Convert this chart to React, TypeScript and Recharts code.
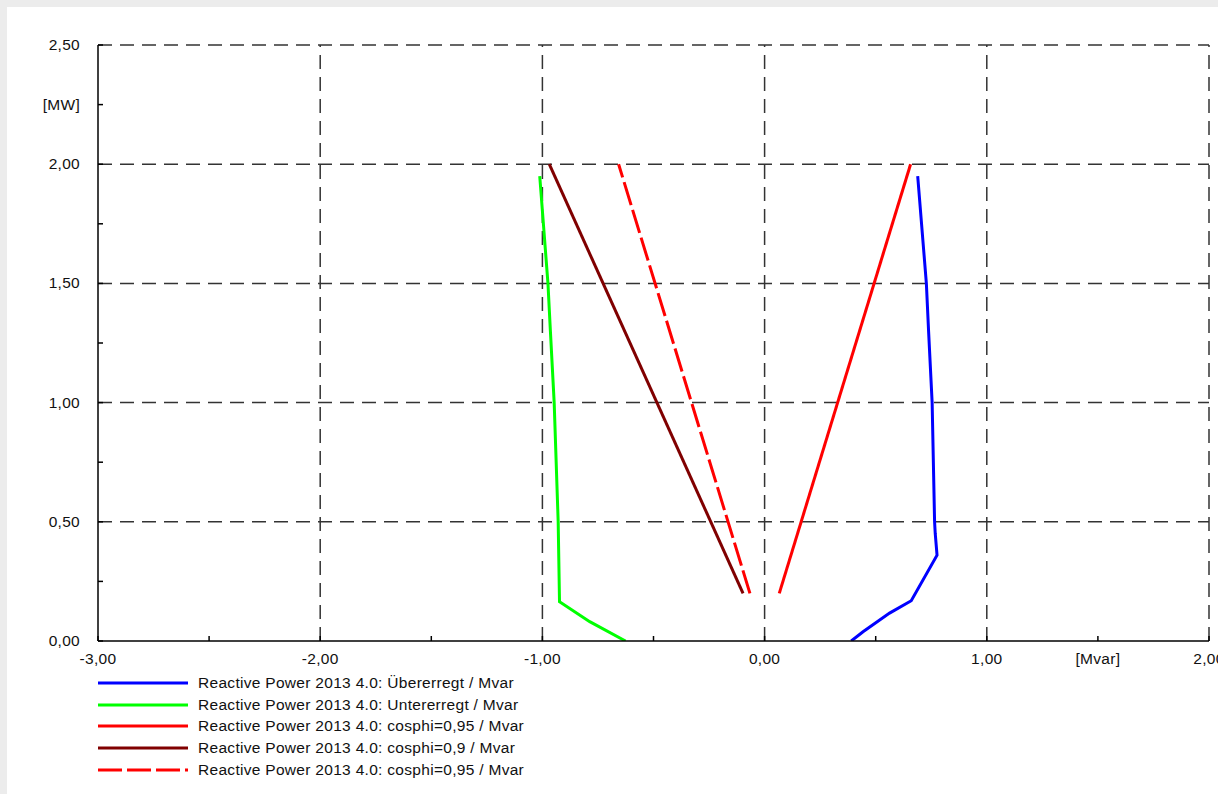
import React from 'react';
import { LineChart, Line, XAxis, YAxis, ReferenceLine, Legend } from 'recharts';

// Q in Mvar (x), P in MW (y)
const uebererregtQ = [0.39, 0.443, 0.5625, 0.66, 0.776, 0.768, 0.765, 0.754, 0.738, 0.728, 0.689];
const uebererregtP = [0, 0.039, 0.117, 0.169, 0.36, 0.45, 0.5, 1.0, 1.3, 1.5, 1.95];

const untererregtQ = [-0.626, -0.787, -0.923, -0.929, -0.947, -0.964, -0.975, -1.012];
const untererregtP = [0, 0.081, 0.165, 0.5, 1.0, 1.3, 1.5, 1.95];

const cosphi095PosQ = [0.066, 0.657];
const cosphi095PosP = [0.2, 2.0];

const cosphi09NegQ = [-0.097, -0.969];
const cosphi09NegP = [0.2, 2.0];

const cosphi095NegQ = [-0.066, -0.657];
const cosphi095NegP = [0.2, 2.0];

const xTicks = [-3, -2.5, -2, -1.5, -1, -0.5, 0, 0.5, 1, 1.5, 2];
const xTickLabels = ['-3,00', '', '-2,00', '', '-1,00', '', '0,00', '', '1,00', '[Mvar]', '2,00'];
const yTicks = [0, 0.25, 0.5, 0.75, 1, 1.25, 1.5, 1.75, 2, 2.25, 2.5];
const yTickLabels = ['0,00', '', '0,50', '', '1,00', '', '1,50', '', '2,00', '[MW]', '2,50'];

const gridX = [-2, -1, 0, 1, 2];
const gridY = [0.5, 1, 1.5, 2, 2.5];

const seriesNames = [
  'Reactive Power 2013 4.0: Übererregt / Mvar',
  'Reactive Power 2013 4.0: Untererregt / Mvar',
  'Reactive Power 2013 4.0: cosphi=0,95 / Mvar',
  'Reactive Power 2013 4.0: cosphi=0,9 / Mvar',
  'Reactive Power 2013 4.0: cosphi=0,95 / Mvar',
];
const seriesColors = ['#0000ff', '#00ff00', '#ff0000', '#800000', '#ff0000'];
const seriesDash = ['', '', '', '', '24 5'];

const toPoints = (q: number[], p: number[]) => q.map((v, i) => ({ q: v, p: p[i] }));

const seriesData = [
  toPoints(uebererregtQ, uebererregtP),
  toPoints(untererregtQ, untererregtP),
  toPoints(cosphi095PosQ, cosphi095PosP),
  toPoints(cosphi09NegQ, cosphi09NegP),
  toPoints(cosphi095NegQ, cosphi095NegP),
];

const font = '"Liberation Sans", Arial, sans-serif';
const textColor = '#111';
const fontSize = 15.5;
const spacing = 0.3;

const XTick = (props: any) => {
  const { x, y, payload } = props;
  const label = xTickLabels[xTicks.indexOf(payload.value)];
  return (
    <g>
      <line x1={x} x2={x} y1={y} y2={y - 5} stroke="#000" strokeWidth={1.5} />
      {label ? (
        <text x={x} y={y + 23} textAnchor="middle" fontFamily={font} fontSize={fontSize} letterSpacing={spacing} fill={textColor}>
          {label}
        </text>
      ) : null}
    </g>
  );
};

const YTick = (props: any) => {
  const { x, y, payload } = props;
  const label = yTickLabels[yTicks.indexOf(payload.value)];
  return (
    <g>
      <line x1={x} x2={x + 5} y1={y} y2={y} stroke="#000" strokeWidth={1.5} />
      {label ? (
        <text x={x - 18} y={y + 5} textAnchor="end" fontFamily={font} fontSize={fontSize} letterSpacing={spacing} fill={textColor}>
          {label}
        </text>
      ) : null}
    </g>
  );
};

const LegendBox = () => (
  <div style={{ fontFamily: font, fontSize, letterSpacing: spacing, color: textColor }}>
    {seriesNames.map((name, i) => (
      <div key={i} style={{ display: 'flex', alignItems: 'center', height: 21.7 }}>
        <svg width={90} height={6} style={{ display: 'block' }}>
          <line
            x1={0}
            x2={90}
            y1={3}
            y2={3}
            stroke={seriesColors[i]}
            strokeWidth={3}
            strokeDasharray={seriesDash[i] || undefined}
          />
        </svg>
        <span style={{ marginLeft: 10, whiteSpace: 'nowrap' }}>{name}</span>
      </div>
    ))}
  </div>
);

export default function App() {
  return (
    <div style={{ position: 'absolute', left: 0, top: 0, width: 1218, height: 794, background: '#ececec' }}>
      <div style={{ position: 'absolute', left: 7, top: 7, width: 1211, height: 787, background: '#fff' }}>
        <LineChart width={1211} height={787} margin={{ top: 38, right: 9, left: 31, bottom: 123 }}>
          <XAxis
            type="number"
            dataKey="q"
            domain={[-3, 2]}
            ticks={xTicks}
            interval={0}
            allowDataOverflow
            tickSize={0}
            tickMargin={0}
            tickLine={false}
            tick={<XTick />}
            axisLine={{ stroke: '#000', strokeWidth: 1.5 }}
            height={30}
          />
          <YAxis
            type="number"
            dataKey="p"
            domain={[0, 2.5]}
            ticks={yTicks}
            interval={0}
            allowDataOverflow
            tickSize={0}
            tickMargin={0}
            tickLine={false}
            tick={<YTick />}
            axisLine={{ stroke: '#000', strokeWidth: 1.5 }}
            width={60}
          />
          {gridX.map((v) => (
            <ReferenceLine key={'gx' + v} x={v} stroke="#333" strokeWidth={1.5} strokeDasharray="14 8" />
          ))}
          {gridY.map((v) => (
            <ReferenceLine key={'gy' + v} y={v} stroke="#333" strokeWidth={1.5} strokeDasharray="14 8" />
          ))}
          {seriesData.map((d, i) => (
            <Line
              key={i}
              data={d}
              dataKey="p"
              name={seriesNames[i]}
              type="linear"
              stroke={seriesColors[i]}
              strokeWidth={3}
              strokeDasharray={seriesDash[i] || undefined}
              dot={false}
              activeDot={false}
              isAnimationActive={false}
            />
          ))}
          <Legend
            layout="horizontal"
            verticalAlign="middle"
            align="center"
            content={<LegendBox />}
            wrapperStyle={{ left: 91, top: 665, width: 600, height: 110 }}
          />
        </LineChart>
      </div>
    </div>
  );
}
